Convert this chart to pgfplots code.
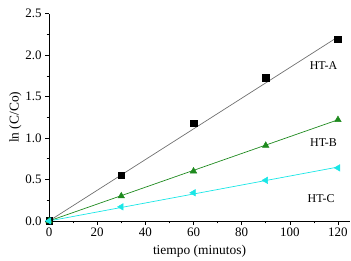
\documentclass[border=0pt]{standalone}
\usepackage{pgfplots}
\pgfplotsset{compat=1.18}
\usepackage{fontspec}
\setmainfont{Liberation Serif}
\definecolor{lineA}{HTML}{707070}
\definecolor{grn}{HTML}{1E8A1E}
\definecolor{cyn}{HTML}{19E6E6}
\begin{document}
\begin{tikzpicture}[x=1pt,y=1pt]
\begin{axis}[
  scale only axis,
  width=302pt, height=208pt,
  xmin=0, xmax=125, ymin=0, ymax=2.5,
  axis x line=bottom, axis y line=left,
  axis line style={-, line width=0.8pt},
  xtick={0,20,...,120}, ytick={0,0.5,...,2.5},
  minor xtick={10,30,...,110}, minor ytick={0.25,0.75,...,2.25},
  tick align=outside,
  major tick length=4pt, minor tick length=2.5pt,
  tick style={black, line width=0.6pt},
  yticklabel style={/pgf/number format/.cd, fixed, fixed zerofill, precision=1},
  /pgf/number format/assume math mode=true,
  tick label style={font=\fontsize{13}{14}\selectfont},
  label style={font=\fontsize{13.5}{15}\selectfont},
  xticklabel style={yshift=1pt},
  xlabel={tiempo (minutos)},
  ylabel={ln (C/Co)},
  xlabel style={yshift=-2pt},
  ylabel style={yshift=-3pt},
  clip=false,
]
\addplot[lineA, line width=0.7pt] coordinates {(0,0) (120,2.22)};
\addplot[grn, line width=0.7pt] coordinates {(0,0) (120,1.22)};
\addplot[cyn, line width=0.7pt] coordinates {(0,0) (120,0.65)};
\addplot[only marks, mark=square*, mark size=3.3pt, black] coordinates {(0,0) (30,0.55) (60,1.18) (90,1.73) (120,2.19)};
\addplot[only marks, mark=triangle*, mark size=3.8pt, grn] coordinates {(0,0) (30,0.30) (60,0.60) (90,0.91) (120,1.22)};
\addplot[only marks, mark=triangle*, mark options={rotate=90}, mark size=3.8pt, cyn] coordinates {(0,0) (30,0.17) (60,0.34) (90,0.49) (120,0.64)};
\node[font=\fontsize{12}{13}\selectfont] at (axis cs:114,1.87) {HT-A};
\node[font=\fontsize{12}{13}\selectfont] at (axis cs:114,0.94) {HT-B};
\node[font=\fontsize{12}{13}\selectfont] at (axis cs:113,0.27) {HT-C};
\end{axis}
\path ([shift={(-6pt,6pt)}]current bounding box.north west);
\end{tikzpicture}
\end{document}
